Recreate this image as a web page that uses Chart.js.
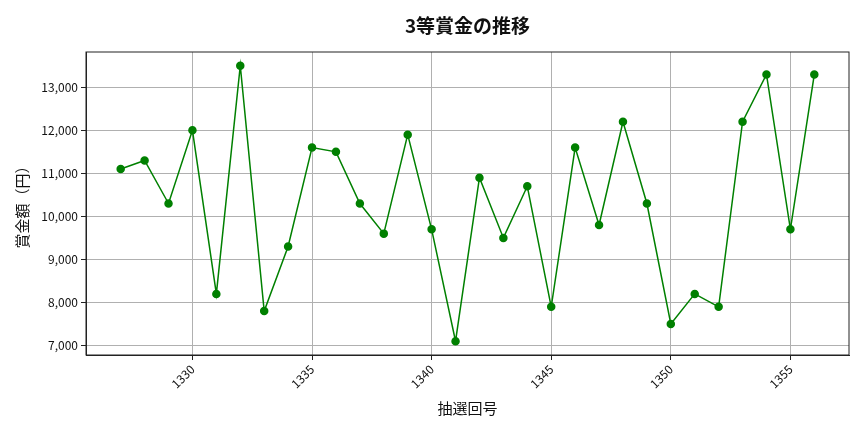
<!DOCTYPE html>
<html>
<head>
<meta charset="utf-8">
<script src="https://cdn.jsdelivr.net/npm/chart.js@4/dist/chart.umd.min.js"></script>
<style>
  html, body { margin: 0; padding: 0; background: #fff; }
  #wrap { width: 864px; height: 432px; }
</style>
</head>
<body>
<div id="wrap"><canvas id="prizeChart" width="864" height="432"></canvas></div>
<script>
// 抽選回号
const rounds = [1327, 1328, 1329, 1330, 1331, 1332, 1333, 1334, 1335, 1336,
                1337, 1338, 1339, 1340, 1341, 1342, 1343, 1344, 1345, 1346,
                1347, 1348, 1349, 1350, 1351, 1352, 1353, 1354, 1355, 1356]
// 3等賞金（円）
const prizes = [11100, 11300, 10300, 12000, 8200, 13500, 7800, 9300, 11600, 11500,
                10300, 9600, 11900, 9700, 7100, 10900, 9500, 10700, 7900, 11600,
                9800, 12200, 10300, 7500, 8200, 7900, 12200, 13300, 9700, 13300]
const xTicks = [1330, 1335, 1340, 1345, 1350, 1355]
const yTicks = [7000, 8000, 9000, 10000, 11000, 12000, 13000]

const jpFont = "'Noto Sans CJK JP', 'Noto Sans', sans-serif"

// matplotlib style frame around the plot area
const frameBox = {
    id: 'frameBox',
    afterDraw(chart) {
        const { ctx, chartArea: a } = chart
        ctx.save()
        ctx.strokeStyle = '#222'
        ctx.lineWidth = 1
        ctx.strokeRect(a.left, a.top, a.right - a.left, a.bottom - a.top)
        ctx.restore()
    }
}

const ctx = document.getElementById('prizeChart')
new Chart(ctx, {
    type: 'line',
    data: {
        datasets: [{
            label: '3等賞金',
            data: rounds.map((r, i) => ({ x: r, y: prizes[i] })),
            borderColor: '#008000',
            backgroundColor: '#008000',
            borderWidth: 1.5,
            pointRadius: 3.5,
            pointHoverRadius: 3.5,
            tension: 0
        }]
    },
    options: {
        responsive: false,
        animation: false,
        layout: { padding: { left: 0, right: 15, top: 0, bottom: 0 } },
        plugins: {
            legend: { display: false },
            tooltip: { enabled: false },
            title: {
                display: true,
                text: '3等賞金の推移',
                fullSize: false,
                color: '#111',
                font: { family: jpFont, size: 19, weight: 'bold', lineHeight: 1.2 },
                padding: { top: 14, bottom: 15.2 }
            }
        },
        scales: {
            x: {
                type: 'linear',
                min: 1325.55,
                max: 1357.45,
                afterBuildTicks: (scale) => { scale.ticks = xTicks.map(v => ({ value: v })) },
                afterFit: (scale) => { scale.height = 77 },
                ticks: {
                    color: '#111',
                    font: { family: jpFont, size: 12 },
                    minRotation: 45,
                    maxRotation: 45,
                    padding: 2,
                    callback: (v) => String(v)
                },
                grid: { color: '#b0b0b0', lineWidth: 1, tickColor: '#222', tickLength: 5 },
                border: { display: true, color: '#222' },
                title: {
                    display: true,
                    text: '抽選回号',
                    color: '#111',
                    font: { family: jpFont, size: 15 },
                    padding: { top: 15, bottom: 15 }
                }
            },
            y: {
                min: 6780,
                max: 13820,
                afterBuildTicks: (scale) => { scale.ticks = yTicks.map(v => ({ value: v })) },
                afterFit: (scale) => { scale.width = 86 },
                ticks: {
                    color: '#111',
                    font: { family: jpFont, size: 12 },
                    padding: 3,
                    callback: (v) => v.toLocaleString('en-US')
                },
                grid: { color: '#b0b0b0', lineWidth: 1, tickColor: '#222', tickLength: 5 },
                border: { display: true, color: '#222' },
                title: {
                    display: true,
                    text: '賞金額（円）',
                    color: '#111',
                    font: { family: jpFont, size: 15 },
                    padding: { top: 13, bottom: 0 }
                }
            }
        }
    },
    plugins: [frameBox]
})
</script>
</body>
</html>
